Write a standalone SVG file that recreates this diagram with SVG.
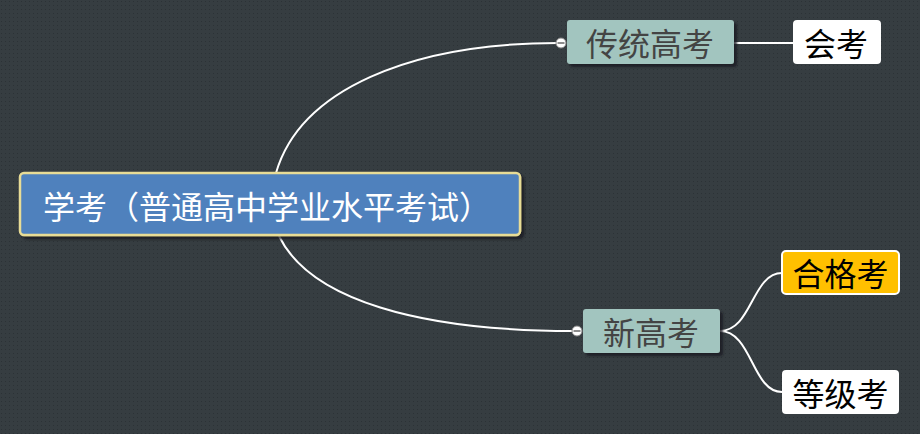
<svg xmlns="http://www.w3.org/2000/svg" width="920" height="434" viewBox="0 0 920 434">
<defs>
<pattern id="dots" width="4" height="4" patternUnits="userSpaceOnUse">
<rect width="4" height="4" fill="#363d41"/>
<rect x="1" y="1" width="1" height="1" fill="#2c3236"/>
</pattern>
<filter id="sh" x="-10%" y="-20%" width="130%" height="160%">
<feDropShadow dx="3" dy="3" stdDeviation="1.2" flood-color="#1a1e20" flood-opacity="0.8"/>
</filter>
</defs>
<style>
.cn{fill:none;stroke:#ffffff;stroke-width:2}
.t{font-family:"Microsoft YaHei","Noto Sans CJK SC",sans-serif;font-size:32px;dominant-baseline:central;text-anchor:middle}
.main{fill:#ffffff}
.sub{fill:#444444}
.leaf{fill:#000000}
.knob{fill:#ffffff;stroke:#888888;stroke-width:1}
</style>
<rect width="920" height="434" fill="url(#dots)"/>
<g id="connectors">
<path class="cn" d="M276,173 C300,90 410,43 558,43"/>
<path class="cn" d="M279,236 C310,300 420,331 573,331"/>
<path class="cn" d="M734,43 L793,43"/>
<path class="cn" d="M720,331 C752,331 752,273 782,273"/>
<path class="cn" d="M720,331 C752,331 752,392 782,392"/>
</g>
<g id="node-root">
<rect x="20" y="173" width="500" height="62" rx="4" fill="#4f81bd" stroke="#e8dc96" stroke-width="2.5" filter="url(#sh)"/>
<text class="t main" x="267" y="205">学考（普通高中学业水平考试）</text>
</g>
<g id="node-traditional">
<rect x="567" y="20" width="167" height="44" rx="3" fill="#a2c5bf" filter="url(#sh)"/>
<circle class="knob" cx="561" cy="43" r="5"/>
<line x1="557.5" y1="43" x2="564.5" y2="43" stroke="#666" stroke-width="1.5"/>
<text class="t sub" x="650" y="42">传统高考</text>
</g>
<g id="node-huikao">
<rect x="793" y="20" width="88" height="44" rx="4" fill="#ffffff"/>
<text class="t leaf" x="836" y="42">会考</text>
</g>
<g id="node-new">
<rect x="583" y="309" width="137" height="44" rx="3" fill="#a2c5bf" filter="url(#sh)"/>
<circle class="knob" cx="577" cy="331" r="5"/>
<line x1="573.5" y1="331" x2="580.5" y2="331" stroke="#666" stroke-width="1.5"/>
<text class="t sub" x="651" y="331">新高考</text>
</g>
<g id="node-hege">
<rect x="782" y="251" width="117" height="43" rx="4" fill="#ffc000" stroke="#ffffff" stroke-width="2"/>
<text class="t leaf" x="840.5" y="272">合格考</text>
</g>
<g id="node-dengji">
<rect x="782" y="370" width="117" height="44" rx="4" fill="#ffffff"/>
<text class="t leaf" x="840.5" y="392">等级考</text>
</g>
</svg>
